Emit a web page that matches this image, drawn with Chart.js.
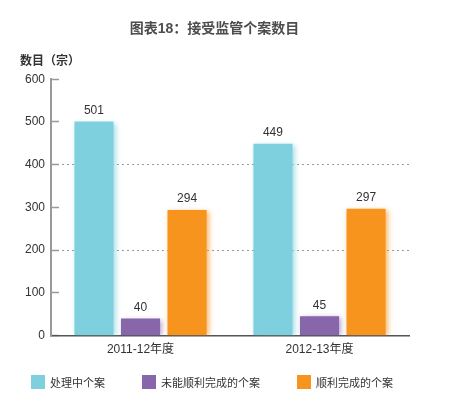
<!DOCTYPE html>
<html>
<head>
<meta charset="utf-8">
<script src="https://cdn.jsdelivr.net/npm/chart.js@4"></script>
<style>
  body { margin: 0; background: #fff; }
  #wrap { position: relative; width: 449px; height: 414px; }
  #legend {
    position: absolute; left: 31px; top: 374px;
    display: flex; gap: 37px;
    font: 11px "Liberation Sans", "Noto Sans CJK SC", sans-serif; color: #333;
  }
  #legend .item { display: flex; align-items: center; }
  #legend .box { width: 14px; height: 14px; margin-right: 5px; }
</style>
</head>
<body>
<div id="wrap">
  <canvas id="myChart" width="449" height="414"></canvas>
  <div id="legend"></div>
</div>
<script>
const categories = ["2011-12年度", "2012-13年度"];
const seriesNames = ["处理中个案", "未能顺利完成的个案", "顺利完成的个案"];
const processing = [501, 449];
const unsuccessful = [40, 45];
const successful = [294, 297];
const seriesColors = ["#7fd0de", "#8866ab", "#f7941e"];
const yTicks = [0, 100, 200, 300, 400, 500, 600];

const FONT = '"Liberation Sans", "Noto Sans CJK SC", sans-serif';

// soft glow round the bars + value labels on top
const barExtras = {
  id: "barExtras",
  beforeDatasetDraw(chart, args) {
    const ctx = chart.ctx;
    ctx.save();
    ctx.shadowColor = seriesColors[args.index] + "aa";
    ctx.shadowBlur = 5;
    ctx.shadowOffsetX = 2;
    ctx.shadowOffsetY = 1;
  },
  afterDatasetDraw(chart, args) {
    chart.ctx.restore();
  },
  afterDatasetsDraw(chart) {
    const ctx = chart.ctx;
    ctx.save();
    ctx.font = "12px " + FONT;
    ctx.fillStyle = "#333";
    ctx.textAlign = "center";
    ctx.textBaseline = "bottom";
    chart.data.datasets.forEach((ds, i) => {
      chart.getDatasetMeta(i).data.forEach((bar, j) => {
        ctx.fillText(ds.data[j], bar.x, bar.y - 5);
      });
    });
    ctx.restore();
  },
};

const chart = new Chart(document.getElementById("myChart"), {
  type: "bar",
  data: {
    labels: categories,
    datasets: [
      { label: seriesNames[0], data: processing, backgroundColor: seriesColors[0] },
      { label: seriesNames[1], data: unsuccessful, backgroundColor: seriesColors[1] },
      { label: seriesNames[2], data: successful, backgroundColor: seriesColors[2] },
    ],
  },
  options: {
    responsive: false,
    animation: false,
    layout: { padding: { left: 20, right: 40, top: 0, bottom: 50 } },
    datasets: { bar: { categoryPercentage: 0.78, barPercentage: 0.84 } },
    plugins: {
      legend: { display: false },
      tooltip: { enabled: false },
      title: {
        display: true,
        text: "图表18：接受监管个案数目",
        color: "#4d4d4d",
        font: { family: FONT, size: 14, weight: "bold" },
        padding: { top: 21, bottom: 8 },
      },
      subtitle: {
        display: true,
        text: "数目（宗）",
        align: "start",
        color: "#333",
        font: { family: FONT, size: 12, weight: "bold" },
        padding: { top: 9, bottom: 10 },
      },
    },
    scales: {
      x: {
        grid: { display: false, drawTicks: false },
        border: { color: "#555", width: 1.5 },
        ticks: { color: "#333", font: { family: FONT, size: 12 }, padding: 7 },
      },
      y: {
        min: yTicks[0],
        max: yTicks[yTicks.length - 1],
        afterBuildTicks: (s) => { s.ticks = yTicks.map((v) => ({ value: v })); },
        afterFit: (s) => { s.width = 31; },
        border: { color: "#999", width: 2, dash: [2, 3] },
        grid: {
          color: (c) => (c.tick && (c.tick.value === 200 || c.tick.value === 400) ? "#999" : "transparent"),
          lineWidth: 1,
          tickColor: "#999",
          tickWidth: 1.5,
          tickLength: -8,
          tickBorderDash: [],
        },
        ticks: { color: "#333", font: { family: FONT, size: 12 }, padding: 14 },
      },
    },
  },
  plugins: [barExtras],
});

// legend below the chart
const legendBox = document.getElementById("legend");
seriesNames.forEach((name, i) => {
  const item = document.createElement("div");
  item.className = "item";
  item.innerHTML = '<span class="box" style="background:' + seriesColors[i] + '"></span><span>' + name + "</span>";
  legendBox.appendChild(item);
});
</script>
</body>
</html>
